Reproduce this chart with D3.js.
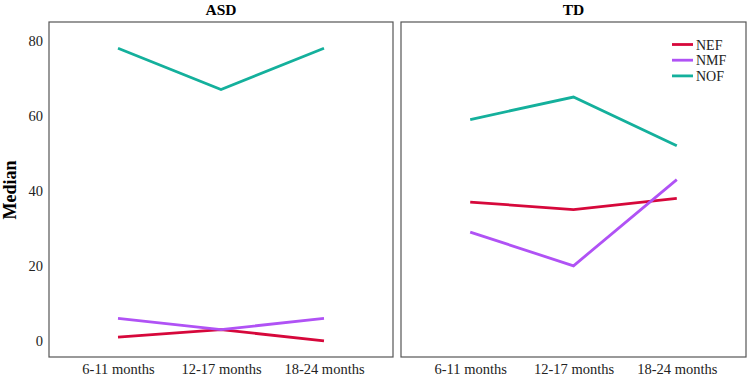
<!DOCTYPE html>
<html><head><meta charset="utf-8">
<script src="https://cdn.jsdelivr.net/npm/d3@7"></script>
<style>body{margin:0;background:#fff;} svg{display:block;}</style>
</head><body><svg id="c" width="749" height="379"></svg>
<script>
const categories = ["6-11 months", "12-17 months", "18-24 months"];
const panels = ["ASD", "TD"];
const seriesNames = ["NEF", "NMF", "NOF"];
const asdNEF = [1, 3, 0];
const asdNMF = [6, 3, 6];
const asdNOF = [78, 67, 78];
const tdNEF = [37, 35, 38];
const tdNMF = [29, 20, 43];
const tdNOF = [59, 65, 52];
const yTicks = [0, 20, 40, 60, 80];
const colors = {NEF: "#d6083b", NMF: "#b052f5", NOF: "#14b09c"};

const data = {
  ASD: {NEF: asdNEF, NMF: asdNMF, NOF: asdNOF},
  TD: {NEF: tdNEF, NMF: tdNMF, NOF: tdNOF}
};

(function () {
const svg = d3.select("#c");
const font = "'Liberation Serif', 'Times New Roman', serif";
const pTop = 22, pBottom = 357;
const panelX = {ASD: [49, 393], TD: [401, 746]};
const y = d3.scaleLinear().domain([-4.3, 85]).range([pBottom, pTop]);

panels.forEach(p => {
  const [x0, x1] = panelX[p];
  const x = d3.scalePoint().domain(categories).range([x0, x1]).padding(0.67);
  const g = svg.append("g");
  g.append("rect").attr("x", x0).attr("y", pTop).attr("width", x1 - x0).attr("height", pBottom - pTop)
    .attr("fill", "none").attr("stroke", "#555").attr("stroke-width", 1.2);
  g.append("text").attr("x", (x0 + x1) / 2).attr("y", 15).attr("text-anchor", "middle")
    .attr("font-family", font).attr("font-weight", "bold").attr("font-size", 15.5).text(p);
  const xa = g.append("g").attr("transform", `translate(0,${pBottom})`)
    .call(d3.axisBottom(x).tickSize(0).tickPadding(7));
  xa.select(".domain").remove();
  xa.selectAll("text").attr("font-family", font).attr("font-size", 14.5).attr("fill", "#222");
  if (p === "ASD") {
    const ya = g.append("g").attr("transform", `translate(${x0},0)`)
      .call(d3.axisLeft(y).tickValues(yTicks).tickSize(0).tickPadding(6));
    ya.select(".domain").remove();
    ya.selectAll("text").attr("font-family", font).attr("font-size", 14.5).attr("fill", "#222");
  }
  const line = d3.line().x((d, i) => x(categories[i])).y(d => y(d));
  seriesNames.forEach(s => {
    g.append("path").datum(data[p][s]).attr("d", line).attr("fill", "none")
      .attr("stroke", colors[s]).attr("stroke-width", 2.8);
  });
});

svg.append("text").attr("transform", "translate(16,190) rotate(-90)").attr("text-anchor", "middle")
  .attr("font-family", font).attr("font-weight", "bold").attr("font-size", 18).text("Median");

const lg = svg.append("g").attr("transform", "translate(672,44.5)");
seriesNames.forEach((s, i) => {
  lg.append("line").attr("x1", 0).attr("x2", 21).attr("y1", i * 15.7).attr("y2", i * 15.7)
    .attr("stroke", colors[s]).attr("stroke-width", 2.8);
  lg.append("text").attr("x", 24).attr("y", i * 15.7 + 5).attr("font-family", font)
    .attr("font-size", 14).attr("fill", "#222").text(s);
});
})();
</script></body></html>
